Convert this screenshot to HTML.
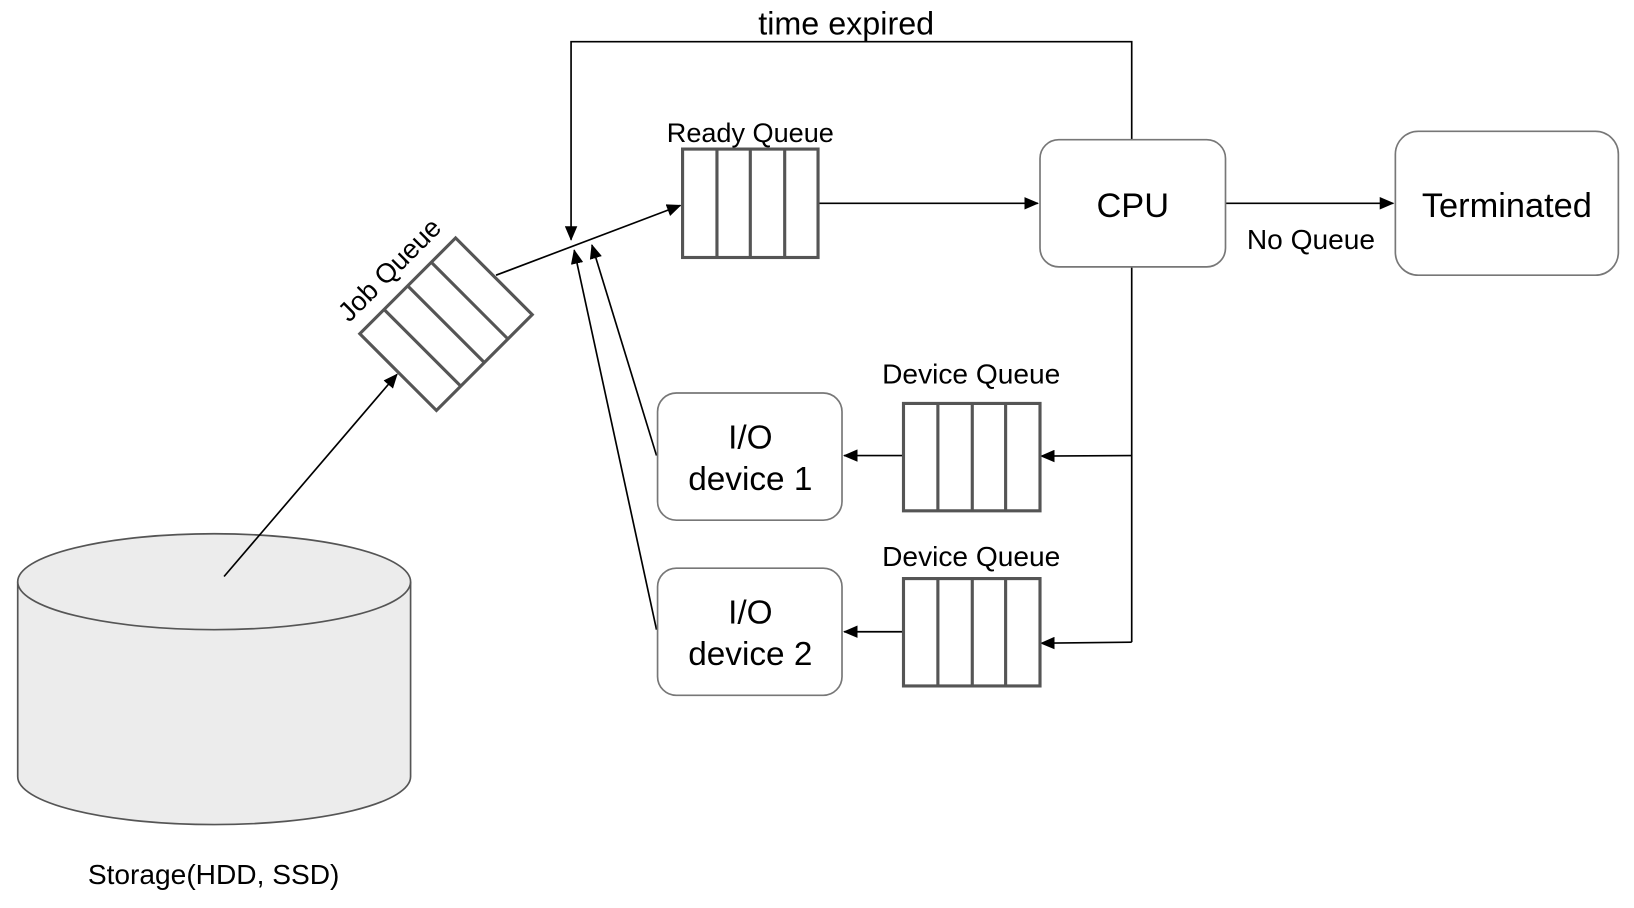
<!DOCTYPE html>
<html><head><style>html,body{margin:0;padding:0;background:#fff}svg{display:block}</style></head>
<body>
<svg width="1634" height="908" viewBox="0 0 1568 871" preserveAspectRatio="none" xmlns="http://www.w3.org/2000/svg" font-family="Liberation Sans, Arial, sans-serif">
<defs>
<marker id="b" markerWidth="14" markerHeight="12" refX="13" refY="6" orient="auto" markerUnits="userSpaceOnUse" viewBox="0 0 14 12">
<path d="M0,0 L14,6 L0,12 z" fill="#000"/></marker>
</defs>
<!-- cylinder -->
<g stroke="#555" stroke-width="1.6" fill="#ececec">
<path d="M17,558 L17,745 A188.5,46 0 0 0 394,745 L394,558"/>
<ellipse cx="205.5" cy="558" rx="188.5" ry="46"/>
</g>
<g stroke="#000" stroke-width="1.6" fill="none">
<polyline points="1086,134 1086,40 548,40 548,230" marker-end="url(#b)"/>
<line x1="786" y1="195" x2="996" y2="195" marker-end="url(#b)"/>
<line x1="1176" y1="195" x2="1337" y2="195" marker-end="url(#b)"/>
<polyline points="1086,256 1086,616"/>
<line x1="1086" y1="437" x2="999" y2="437.5" marker-end="url(#b)"/>
<line x1="1086" y1="616" x2="999" y2="617" marker-end="url(#b)"/>
<line x1="867" y1="437" x2="810" y2="437" marker-end="url(#b)"/>
<line x1="867" y1="606" x2="810" y2="606" marker-end="url(#b)"/>
<line x1="630" y1="437" x2="568" y2="235" marker-end="url(#b)"/>
<line x1="630" y1="604" x2="551" y2="240" marker-end="url(#b)"/>
<line x1="476" y1="264" x2="653" y2="197" marker-end="url(#b)"/>
<line x1="215" y1="553" x2="381" y2="359" marker-end="url(#b)"/>
</g>
<g stroke="#555" stroke-width="3" fill="#fff">
<rect x="655" y="143" width="130" height="104"/>
<line x1="688" y1="143" x2="688" y2="247"/><line x1="720" y1="143" x2="720" y2="247"/><line x1="753" y1="143" x2="753" y2="247"/>
<rect x="867" y="387" width="131" height="103"/>
<line x1="900" y1="387" x2="900" y2="490"/><line x1="933" y1="387" x2="933" y2="490"/><line x1="965" y1="387" x2="965" y2="490"/>
<rect x="867" y="555" width="131" height="103"/>
<line x1="900" y1="555" x2="900" y2="658"/><line x1="933" y1="555" x2="933" y2="658"/><line x1="965" y1="555" x2="965" y2="658"/>
<g transform="translate(428,311) rotate(-45)">
<rect x="-65" y="-52" width="130" height="104"/>
<line x1="-32" y1="-52" x2="-32" y2="52"/><line x1="0" y1="-52" x2="0" y2="52"/><line x1="32" y1="-52" x2="32" y2="52"/>
</g>
</g>
<g stroke="#777" stroke-width="1.6" fill="#fff">
<rect x="998" y="134" width="178" height="122" rx="18"/>
<rect x="1339" y="126" width="214" height="138" rx="22"/>
<rect x="631" y="377" width="177" height="122" rx="18"/>
<rect x="631" y="545" width="177" height="122" rx="18"/>
</g>
<g fill="#000" text-anchor="middle">
<text x="812" y="33" font-size="31">time expired</text>
<text x="720" y="136" font-size="26">Ready Queue</text>
<text x="1087" y="208" font-size="33">CPU</text>
<text x="1446" y="208" font-size="33">Terminated</text>
<text x="1258" y="239" font-size="27">No Queue</text>
<text x="932" y="368" font-size="27">Device Queue</text>
<text x="932" y="543" font-size="27">Device Queue</text>
<text x="720" y="430" font-size="32">I/O</text>
<text x="720" y="470" font-size="32">device 1</text>
<text x="720" y="598" font-size="32">I/O</text>
<text x="720" y="638" font-size="32">device 2</text>
<text x="205" y="848" font-size="27">Storage(HDD, SSD)</text>
<text x="0" y="0" font-size="26" transform="translate(380,265) rotate(-45)">Job Queue</text>
</g>
</svg>
</body></html>
